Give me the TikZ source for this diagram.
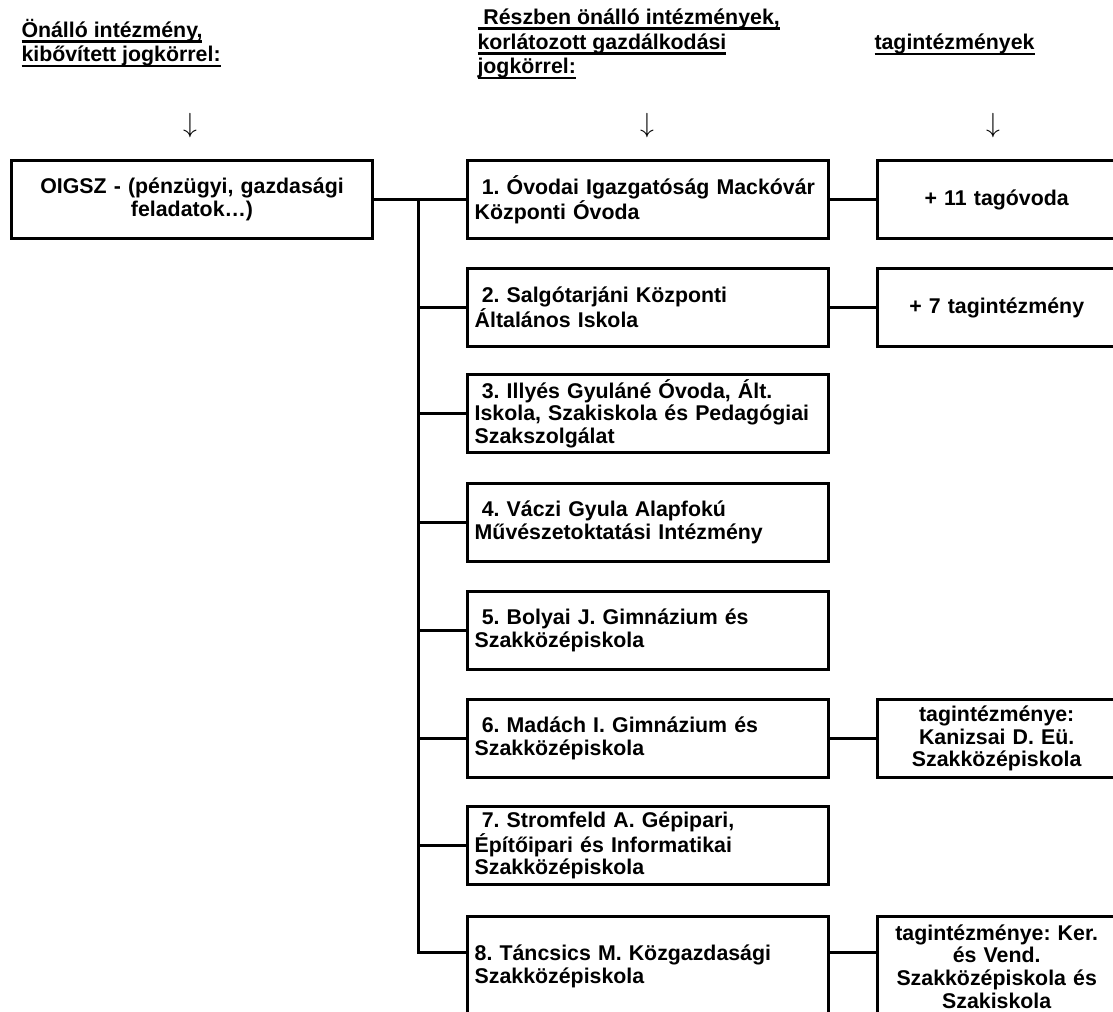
\documentclass[tikz,border=0pt]{standalone}
\usepackage{fontspec}
\setmainfont{Liberation Sans}
\frenchspacing
\newcommand\hdline[1]{\setbox0\hbox{#1}\rlap{\rule[-4pt]{\wd0}{2pt}}\box0}
\begin{document}
\begin{tikzpicture}[x=0.75pt,y=-0.75pt, line width=2.25pt,
	box/.style={draw, rectangle, anchor=north west, minimum width=270.75pt, minimum height=58.5pt,
		text width=260pt, inner xsep=5.4pt, align=left, font=\bfseries\fontsize{16}{17}\selectfont},
	tagbox/.style={box, minimum width=177pt, text width=168pt, align=center},
	head/.style={anchor=base west, inner sep=0pt, align=left, font=\bfseries\fontsize{16}{18.6}\selectfont},
	down/.style={inner sep=0pt, font=\fontsize{20}{20}\selectfont}]
	\useasboundingbox (0,0) rectangle (1113,1012);
	\clip (0,0) rectangle (1113,1012);
	% fejlecek
	\node[head] (h1) at (20,62) {\hdline{Önálló intézmény,}\\\hdline{kibővített jogkörrel:}};
	\node[head] (h2) at (476,74) {\hdline{\ Részben önálló intézmények,}\\\hdline{korlátozott gazdálkodási}\\\hdline{jogkörrel:}};
	\node[head] (h3) at (873,50) {\hdline{tagintézmények}};
	\node[down] (n1) at (190,126) {$\downarrow$};
	\node[down] (n2) at (647,126) {$\downarrow$};
	\node[down] (n3) at (993,126) {$\downarrow$};
	% intezmenyek
	\node[box, align=center] (oigsz) at (10,159) {OIGSZ - (pénzügyi, gazdasági\\feladatok…)};
	\node[box] (b1) at (466,159) {\ 1. Óvodai Igazgatóság Mackóvár\\Központi Óvoda};
	\node[box] (b2) at (466,267) {\ 2. Salgótarjáni Központi\\Általános Iskola};
	\node[box] (b3) at (466,373) {\ 3. Illyés Gyuláné Óvoda, Ált.\\Iskola, Szakiskola és Pedagógiai\\Szakszolgálat};
	\node[box] (b4) at (466,482) {\ 4. Váczi Gyula Alapfokú\\Művészetoktatási Intézmény};
	\node[box] (b5) at (466,590) {\ 5. Bolyai J. Gimnázium és\\Szakközépiskola};
	\node[box] (b6) at (466,698) {\ 6. Madách I. Gimnázium és\\Szakközépiskola};
	\node[box] (b7) at (466,805) {\ 7. Stromfeld A. Gépipari,\\Építőipari és Informatikai\\Szakközépiskola};
	\node[box, minimum height=75pt] (b8) at (466,915) {8. Táncsics M. Közgazdasági\\Szakközépiskola};
	% tagintezmenyek
	\node[tagbox] (t1) at (876,159) {+ 11 tagóvoda};
	\node[tagbox] (t2) at (876,267) {+ 7 tagintézmény};
	\node[tagbox] (t6) at (876,698) {tagintézménye:\\Kanizsai D. Eü.\\Szakközépiskola};
	\node[tagbox, minimum height=75pt] (t8) at (876,915) {tagintézménye: Ker.\\és Vend.\\Szakközépiskola és\\Szakiskola};
	% vonalak
	\coordinate (trunk) at (418,0);
	\coordinate (j8) at (418,952);
	\draw (oigsz.east) -- (b1.west);
	\draw (trunk |- b1.west) -- (j8) -- (j8 -| b8.west);
	\foreach \n in {2,...,7}
		\draw (trunk |- b\n.west) -- (b\n.west);
	\foreach \n in {1,2,6}
		\draw (b\n.east) -- (t\n.west);
	\draw (b8.east |- j8) -- (t8.west |- j8);
\end{tikzpicture}
\end{document}
